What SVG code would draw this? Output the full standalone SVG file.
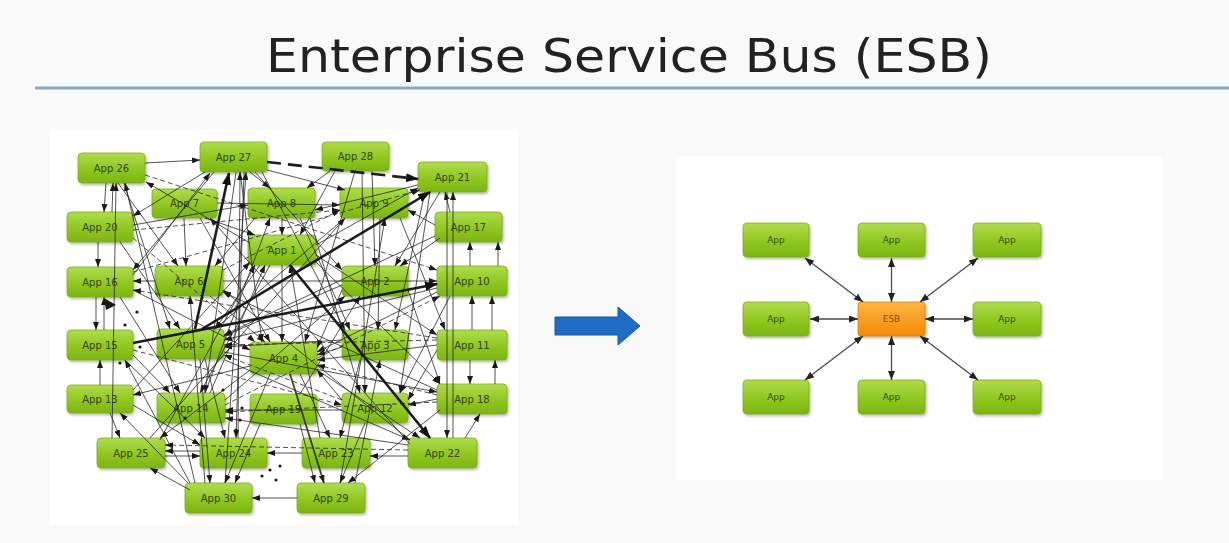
<svg xmlns="http://www.w3.org/2000/svg" width="1229" height="543" viewBox="0 0 1229 543">
  <defs>
    <linearGradient id="green" x1="0" y1="0" x2="0" y2="1">
      <stop offset="0" stop-color="#b0dc4e"/>
      <stop offset="0.5" stop-color="#92c923"/>
      <stop offset="1" stop-color="#7cb412"/>
    </linearGradient>
    <linearGradient id="orange" x1="0" y1="0" x2="0" y2="1">
      <stop offset="0" stop-color="#ffb545"/>
      <stop offset="1" stop-color="#f28a05"/>
    </linearGradient>
    <filter id="shadow" x="-10%" y="-10%" width="130%" height="140%">
      <feDropShadow dx="1.5" dy="2" stdDeviation="1.2" flood-color="#6a7a50" flood-opacity="0.45"/>
    </filter>
    <marker id="ah" markerUnits="userSpaceOnUse" markerWidth="8" markerHeight="6" refX="8" refY="3" orient="auto">
      <path d="M0,0 L8,3 L0,6 z" fill="#1a1a1a"/>
    </marker>
    <marker id="ahT" markerUnits="userSpaceOnUse" markerWidth="13" markerHeight="9" refX="12" refY="4.5" orient="auto">
      <path d="M0,0 L13,4.5 L0,9 z" fill="#111"/>
    </marker>
    <marker id="ah2" markerUnits="userSpaceOnUse" markerWidth="9" markerHeight="7" refX="9" refY="3.5" orient="auto-start-reverse">
      <path d="M0,0 L9,3.5 L0,7 z" fill="#222"/>
    </marker>
  </defs>
  <style>
    .node rect { fill: url(#green); stroke: #7fae1c; stroke-width: 0.8; filter: url(#shadow); }
    .node text { font-family: "DejaVu Sans", "Liberation Sans", sans-serif; font-size: 10px; fill: #334510; text-anchor: middle; dominant-baseline: central; }
    .esb rect { fill: url(#orange); stroke: #e08000; stroke-width: 0.8; filter: url(#shadow); }
    .esb text { font-family: "DejaVu Sans", "Liberation Sans", sans-serif; font-size: 9px; fill: #8a4a05; text-anchor: middle; dominant-baseline: central; }
    .r rect { fill: url(#green); stroke: #7fae1c; stroke-width: 0.8; filter: url(#shadow); }
    .r text { font-family: "DejaVu Sans", "Liberation Sans", sans-serif; font-size: 9px; fill: #3b4d12; text-anchor: middle; dominant-baseline: central; }
    #mesh line { stroke: #222; stroke-width: 1; stroke-opacity: 0.78; marker-end: url(#ah); }
    #mesh line.d { stroke-dasharray: 5 3; }
    #mesh line.m { stroke-width: 1.8; stroke-opacity: 0.85; }
    #mesh line.t { stroke: #111; stroke-width: 2.6; stroke-opacity: 0.95; marker-end: url(#ahT); }
    #mesh line.td { stroke: #111; stroke-width: 2.6; stroke-opacity: 0.95; stroke-dasharray: 14 7; marker-end: url(#ahT); }
    #mesh circle { fill: #1a1a1a; }
    #bus line { stroke: #4a4a4a; stroke-width: 1.3; marker-start: url(#ah2); marker-end: url(#ah2); }
    .title { font-family: "DejaVu Sans Condensed", "DejaVu Sans", sans-serif; font-stretch: condensed; font-size: 47px; fill: #222; text-anchor: middle; }
  </style>

  <!-- slide background -->
  <rect x="0" y="0" width="1229" height="543" fill="#f9f9f9"/>

  <!-- heading -->
  <text class="title" x="629" y="72" textLength="726" lengthAdjust="spacingAndGlyphs">Enterprise Service Bus (ESB)</text>
  <line x1="35" y1="88" x2="1229" y2="88" stroke="#86a9c6" stroke-width="3"/>

  <!-- panels -->
  <rect x="50" y="129" width="468" height="396" fill="#ffffff"/>
  <rect x="676" y="156" width="487" height="324" fill="#ffffff"/>

  <!-- point-to-point applications -->
  <g id="app26" class="node"><rect x="78" y="153" width="67" height="30" rx="4"/><text x="111.5" y="168">App 26</text></g>
  <g id="app27" class="node"><rect x="200" y="142" width="67" height="30" rx="4"/><text x="233.5" y="157">App 27</text></g>
  <g id="app28" class="node"><rect x="322" y="142" width="67" height="29" rx="4"/><text x="355.5" y="156">App 28</text></g>
  <g id="app21" class="node"><rect x="418" y="162" width="69" height="30" rx="4"/><text x="452.5" y="177">App 21</text></g>
  <g id="app7" class="node"><rect x="152" y="189" width="65" height="29" rx="4"/><text x="184.5" y="203">App 7</text></g>
  <g id="app8" class="node"><rect x="248" y="188" width="67" height="30" rx="4"/><text x="281.5" y="203">App 8</text></g>
  <g id="app9" class="node"><rect x="340" y="188" width="68" height="30" rx="4"/><text x="374" y="203">App 9</text></g>
  <g id="app20" class="node"><rect x="67" y="212" width="66" height="30" rx="4"/><text x="100" y="227">App 20</text></g>
  <g id="app17" class="node"><rect x="435" y="212" width="67" height="30" rx="4"/><text x="468.5" y="227">App 17</text></g>
  <g id="app1" class="node"><rect x="248" y="235" width="68" height="30" rx="4"/><text x="282" y="250">App 1</text></g>
  <g id="app16" class="node"><rect x="67" y="267" width="66" height="30" rx="4"/><text x="100" y="282">App 16</text></g>
  <g id="app6" class="node"><rect x="155" y="266" width="68" height="30" rx="4"/><text x="189" y="281">App 6</text></g>
  <g id="app2" class="node"><rect x="342" y="266" width="66" height="30" rx="4"/><text x="375" y="281">App 2</text></g>
  <g id="app10" class="node"><rect x="437" y="266" width="70" height="30" rx="4"/><text x="472" y="281">App 10</text></g>
  <g id="app15" class="node"><rect x="67" y="330" width="66" height="30" rx="4"/><text x="100" y="345">App 15</text></g>
  <g id="app5" class="node"><rect x="157" y="329" width="67" height="30" rx="4"/><text x="190.5" y="344">App 5</text></g>
  <g id="app4" class="node"><rect x="250" y="342" width="67" height="32" rx="4"/><text x="283.5" y="358">App 4</text></g>
  <g id="app3" class="node"><rect x="342" y="330" width="66" height="30" rx="4"/><text x="375" y="345">App 3</text></g>
  <g id="app11" class="node"><rect x="437" y="330" width="70" height="30" rx="4"/><text x="472" y="345">App 11</text></g>
  <g id="app13" class="node"><rect x="67" y="385" width="66" height="28" rx="4"/><text x="100" y="399">App 13</text></g>
  <g id="app14" class="node"><rect x="157" y="393" width="68" height="30" rx="4"/><text x="191" y="408">App 14</text></g>
  <g id="app19" class="node"><rect x="250" y="394" width="67" height="30" rx="4"/><text x="283.5" y="409">App 19</text></g>
  <g id="app12" class="node"><rect x="342" y="393" width="66" height="30" rx="4"/><text x="375" y="408">App 12</text></g>
  <g id="app18" class="node"><rect x="437" y="384" width="70" height="30" rx="4"/><text x="472" y="399">App 18</text></g>
  <g id="app25" class="node"><rect x="97" y="438" width="68" height="30" rx="4"/><text x="131" y="453">App 25</text></g>
  <g id="app24" class="node"><rect x="200" y="438" width="67" height="30" rx="4"/><text x="233.5" y="453">App 24</text></g>
  <g id="app23" class="node"><rect x="302" y="438" width="68" height="30" rx="4"/><text x="336" y="453">App 23</text></g>
  <g id="app22" class="node"><rect x="408" y="438" width="69" height="30" rx="4"/><text x="442.5" y="453">App 22</text></g>
  <g id="app30" class="node"><rect x="185" y="483" width="67" height="30" rx="4"/><text x="218.5" y="498">App 30</text></g>
  <g id="app29" class="node"><rect x="297" y="483" width="68" height="30" rx="4"/><text x="331" y="498">App 29</text></g>

  <!-- point-to-point links -->
  <g id="mesh">
    <line x1="145" y1="163" x2="200" y2="160"/>
    <line x1="106" y1="183" x2="104" y2="212"/>
    <line x1="112" y1="212" x2="113" y2="183"/>
    <line x1="98" y1="242" x2="98" y2="267"/>
    <line x1="96" y1="297" x2="96" y2="330"/>
    <line x1="104" y1="330" x2="104" y2="297"/>
    <line x1="100" y1="385" x2="100" y2="360"/>
    <line x1="112" y1="438" x2="116" y2="183"/>
    <line x1="118" y1="183" x2="178" y2="266"/>
    <line x1="124" y1="183" x2="170" y2="329"/>
    <line x1="250" y1="243" x2="146" y2="182"/>
    <line x1="205" y1="172" x2="133" y2="216"/>
    <line x1="214" y1="172" x2="133" y2="270"/>
    <line x1="236" y1="172" x2="205" y2="393"/>
    <line x1="240" y1="172" x2="262" y2="342"/>
    <line x1="244" y1="172" x2="236" y2="438"/>
    <line x1="255" y1="172" x2="342" y2="270"/>
    <line x1="262" y1="172" x2="345" y2="330"/>
    <line x1="133" y1="275" x2="210" y2="173"/>
    <line x1="330" y1="171" x2="307" y2="188"/>
    <line x1="372" y1="171" x2="375" y2="266"/>
    <line x1="335" y1="171" x2="300" y2="235"/>
    <line x1="355" y1="171" x2="305" y2="342"/>
    <line x1="362" y1="171" x2="365" y2="393"/>
    <line x1="223" y1="281" x2="437" y2="281"/>
    <line x1="155" y1="281" x2="133" y2="281"/>
    <line x1="470" y1="266" x2="470" y2="242"/>
    <line x1="472" y1="330" x2="472" y2="296"/>
    <line x1="453" y1="438" x2="453" y2="192"/>
    <line x1="447" y1="192" x2="447" y2="438"/>
    <line x1="465" y1="438" x2="480" y2="414"/>
    <line x1="435" y1="225" x2="408" y2="210"/>
    <line x1="316" y1="245" x2="418" y2="188"/>
    <line class="d" x1="223" y1="270" x2="340" y2="210"/>
    <line x1="217" y1="203" x2="340" y2="205"/>
    <line x1="210" y1="296" x2="265" y2="342"/>
    <line x1="133" y1="290" x2="250" y2="350"/>
    <line class="d" x1="133" y1="238" x2="255" y2="342"/>
    <line x1="200" y1="218" x2="270" y2="342"/>
    <line x1="260" y1="265" x2="215" y2="329"/>
    <line x1="270" y1="265" x2="200" y2="393"/>
    <line x1="282" y1="265" x2="282" y2="342"/>
    <line x1="342" y1="290" x2="317" y2="348"/>
    <line x1="342" y1="347" x2="317" y2="355"/>
    <line x1="437" y1="345" x2="317" y2="360"/>
    <line x1="437" y1="292" x2="317" y2="352"/>
    <line class="d" x1="437" y1="395" x2="317" y2="365"/>
    <line x1="342" y1="400" x2="317" y2="370"/>
    <line x1="270" y1="374" x2="225" y2="483"/>
    <line x1="250" y1="370" x2="160" y2="438"/>
    <line x1="250" y1="366" x2="133" y2="395"/>
    <line x1="300" y1="374" x2="330" y2="438"/>
    <line x1="205" y1="359" x2="225" y2="438"/>
    <line x1="200" y1="359" x2="210" y2="483"/>
    <line x1="133" y1="355" x2="170" y2="393"/>
    <line x1="125" y1="360" x2="205" y2="438"/>
    <line x1="133" y1="405" x2="200" y2="445"/>
    <line x1="120" y1="297" x2="180" y2="393"/>
    <line x1="120" y1="242" x2="180" y2="329"/>
    <line x1="110" y1="413" x2="120" y2="438"/>
    <line x1="200" y1="451" x2="165" y2="451"/>
    <line x1="165" y1="456" x2="200" y2="456"/>
    <line x1="302" y1="453" x2="267" y2="453"/>
    <line x1="408" y1="456" x2="370" y2="456"/>
    <line x1="297" y1="498" x2="252" y2="498"/>
    <line x1="440" y1="410" x2="348" y2="483"/>
    <line x1="365" y1="423" x2="340" y2="483"/>
    <line x1="360" y1="360" x2="340" y2="438"/>
    <line x1="437" y1="350" x2="408" y2="400"/>
    <line x1="450" y1="296" x2="400" y2="393"/>
    <line x1="437" y1="399" x2="408" y2="405"/>
    <line x1="408" y1="290" x2="440" y2="384"/>
    <line x1="316" y1="255" x2="437" y2="335"/>
    <line x1="316" y1="262" x2="440" y2="384"/>
    <line x1="400" y1="218" x2="445" y2="330"/>
    <line x1="380" y1="218" x2="378" y2="330"/>
    <line x1="300" y1="218" x2="350" y2="330"/>
    <line x1="310" y1="218" x2="360" y2="393"/>
    <line x1="425" y1="192" x2="395" y2="330"/>
    <line x1="430" y1="192" x2="400" y2="393"/>
    <line x1="440" y1="238" x2="400" y2="266"/>
    <line x1="435" y1="236" x2="224" y2="335"/>
    <line x1="437" y1="288" x2="224" y2="340"/>
    <line class="d" x1="437" y1="340" x2="224" y2="345"/>
    <line x1="342" y1="340" x2="224" y2="347"/>
    <line x1="342" y1="285" x2="224" y2="336"/>
    <line x1="345" y1="218" x2="215" y2="329"/>
    <line class="d" x1="342" y1="400" x2="224" y2="355"/>
    <line class="d" x1="437" y1="402" x2="225" y2="412"/>
    <line x1="342" y1="410" x2="225" y2="410"/>
    <line x1="408" y1="445" x2="225" y2="418"/>
    <line class="d" x1="408" y1="450" x2="165" y2="445"/>
    <line x1="238" y1="438" x2="240" y2="172"/>
    <line x1="225" y1="483" x2="246" y2="172"/>
    <line x1="195" y1="483" x2="125" y2="183"/>
    <line x1="190" y1="483" x2="125" y2="360"/>
    <line x1="188" y1="483" x2="120" y2="413"/>
    <line x1="190" y1="490" x2="150" y2="468"/>
    <line x1="205" y1="483" x2="190" y2="296"/>
    <line x1="320" y1="438" x2="290" y2="265"/>
    <line x1="355" y1="483" x2="380" y2="360"/>
    <line x1="340" y1="483" x2="385" y2="218"/>
    <line x1="410" y1="440" x2="223" y2="290"/>
    <line x1="410" y1="444" x2="210" y2="218"/>
    <line x1="437" y1="390" x2="223" y2="292"/>
    <line class="d" x1="437" y1="338" x2="133" y2="290"/>
    <line x1="150" y1="438" x2="345" y2="218"/>
    <line x1="160" y1="440" x2="255" y2="265"/>
    <line x1="133" y1="390" x2="250" y2="262"/>
    <line x1="210" y1="393" x2="265" y2="265"/>
    <line x1="205" y1="393" x2="270" y2="218"/>
    <line x1="300" y1="394" x2="360" y2="296"/>
    <line x1="225" y1="400" x2="345" y2="296"/>
    <line class="d" x1="225" y1="405" x2="440" y2="296"/>
    <line class="d" x1="133" y1="272" x2="420" y2="190"/>
    <line class="d" x1="133" y1="230" x2="340" y2="210"/>
    <line x1="133" y1="225" x2="248" y2="205"/>
    <line x1="205" y1="218" x2="255" y2="235"/>
    <line x1="184" y1="218" x2="186" y2="266"/>
    <line x1="255" y1="218" x2="215" y2="266"/>
    <line x1="282" y1="218" x2="282" y2="235"/>
    <line x1="250" y1="172" x2="270" y2="188"/>
    <line x1="267" y1="170" x2="345" y2="190"/>
    <line x1="418" y1="185" x2="315" y2="210"/>
    <line x1="440" y1="192" x2="395" y2="266"/>
    <line x1="450" y1="212" x2="445" y2="192"/>
    <line x1="470" y1="360" x2="470" y2="384"/>
    <line x1="495" y1="384" x2="495" y2="360"/>
    <line x1="492" y1="330" x2="492" y2="296"/>
    <line x1="498" y1="266" x2="498" y2="242"/>
    <line class="d" x1="145" y1="175" x2="437" y2="270"/>
    <line x1="224" y1="352" x2="437" y2="392"/>
    <line x1="225" y1="360" x2="410" y2="440"/>
    <line x1="317" y1="370" x2="420" y2="438"/>
    <line class="d" x1="133" y1="350" x2="342" y2="405"/>
    <line x1="260" y1="424" x2="235" y2="483"/>
    <line x1="300" y1="424" x2="315" y2="483"/>
    <line class="m" x1="290" y1="374" x2="324" y2="483"/>
    <line class="t" x1="195" y1="329" x2="229" y2="173"/>
    <line class="t" x1="202" y1="329" x2="430" y2="192"/>
    <line class="t" x1="133" y1="343" x2="437" y2="284"/>
    <line class="t" x1="290" y1="265" x2="430" y2="438"/>
    <line class="td" x1="267" y1="162" x2="418" y2="179"/>
    <circle cx="140" cy="347" r="1.6"/>
    <circle cx="120" cy="363" r="1.6"/>
    <circle cx="167" cy="388" r="1.6"/>
    <circle cx="242" cy="408" r="1.6"/>
    <circle cx="240" cy="420" r="1.6"/>
    <circle cx="185" cy="418" r="1.6"/>
    <circle cx="223" cy="390" r="1.6"/>
    <circle cx="137" cy="312" r="1.6"/>
    <circle cx="125" cy="325" r="1.6"/>
    <circle cx="236" cy="430" r="1.6"/>
    <circle cx="262" cy="476" r="1.6"/>
    <circle cx="270" cy="470" r="1.6"/>
    <circle cx="280" cy="466" r="1.6"/>
    <circle cx="276" cy="480" r="1.6"/>
    <path d="M104,298 L116,305 L106,310 z" fill="#1a1a1a"/>
  </g>

  <!-- bus-based applications -->
  <g id="bus-app-tl" class="r"><rect x="743" y="223" width="66" height="34" rx="4"/><text x="776" y="240">App</text></g>
  <g id="bus-app-tc" class="r"><rect x="858" y="223" width="67" height="34" rx="4"/><text x="891.5" y="240">App</text></g>
  <g id="bus-app-tr" class="r"><rect x="973" y="223" width="68" height="34" rx="4"/><text x="1007" y="240">App</text></g>
  <g id="bus-app-ml" class="r"><rect x="743" y="302" width="66" height="34" rx="4"/><text x="776" y="319">App</text></g>
  <g id="esb" class="esb"><rect x="858" y="302" width="67" height="34" rx="3"/><text x="891.5" y="319">ESB</text></g>
  <g id="bus-app-mr" class="r"><rect x="973" y="302" width="68" height="34" rx="4"/><text x="1007" y="319">App</text></g>
  <g id="bus-app-bl" class="r"><rect x="743" y="380" width="66" height="34" rx="4"/><text x="776" y="397">App</text></g>
  <g id="bus-app-bc" class="r"><rect x="858" y="380" width="67" height="34" rx="4"/><text x="891.5" y="397">App</text></g>
  <g id="bus-app-br" class="r"><rect x="973" y="380" width="68" height="34" rx="4"/><text x="1007" y="397">App</text></g>

  <!-- bus links -->
  <g id="bus">
    <line x1="805" y1="258" x2="863" y2="302"/>
    <line x1="891.5" y1="258" x2="891.5" y2="302"/>
    <line x1="978" y1="258" x2="920" y2="302"/>
    <line x1="810" y1="319" x2="858" y2="319"/>
    <line x1="925" y1="319" x2="973" y2="319"/>
    <line x1="863" y1="336" x2="805" y2="380"/>
    <line x1="891.5" y1="336" x2="891.5" y2="380"/>
    <line x1="920" y1="336" x2="978" y2="380"/>
  </g>

  <!-- transition arrow -->
  <path d="M555,317 L618,317 L618,307 L640,326 L618,345 L618,335 L555,335 z" fill="#1f6cc4" stroke="#17589f" stroke-width="1"/>
</svg>
